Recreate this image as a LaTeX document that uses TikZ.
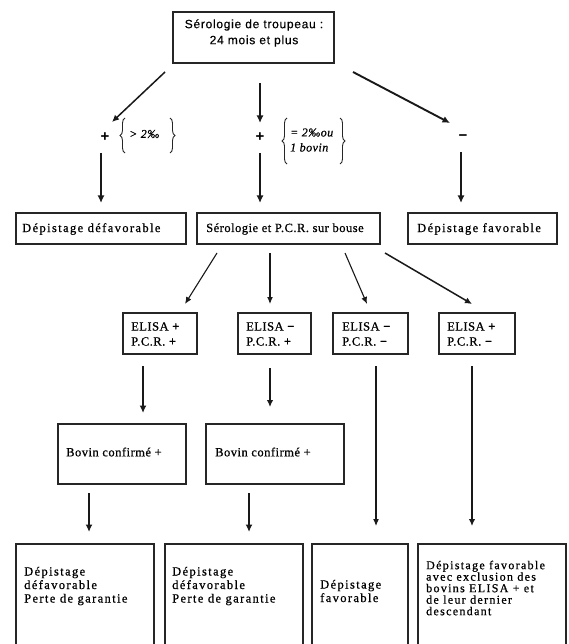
\documentclass[tikz,border=0pt]{standalone}
\usepackage{fontspec}
\setmainfont{Liberation Serif}
\newfontfamily\fa[LetterSpace=11,FakeBold=0.7]{Liberation Serif}
\newfontfamily\fb[LetterSpace=4,FakeBold=0.7]{Liberation Serif}
\newfontfamily\fc[LetterSpace=6,FakeBold=0.4]{Liberation Sans}
\newfontfamily\fs{Liberation Sans}
\usetikzlibrary{arrows.meta,decorations.pathreplacing}
\begin{document}
\begin{tikzpicture}[x=1pt,y=-1pt,
  box/.style={draw=black!85,line width=1.2pt,inner sep=0pt,rectangle},
  ta/.style={inner sep=0pt,anchor=west,align=left,font=\fa\fontsize{12.5}{13.5}\selectfont},
  tg/.style={inner sep=0pt,anchor=west,align=left,font=\fa\fontsize{12}{11.5}\selectfont},
  tb/.style={inner sep=0pt,anchor=west,align=left,font=\fb\fontsize{12.5}{15}\selectfont},
  tc/.style={inner sep=0pt,align=center,font=\fc\fontsize{12}{16}\selectfont},
  sign/.style={inner sep=0pt,font=\fs\bfseries\fontsize{15}{15}\selectfont},
  brc/.style={inner sep=0pt,align=left,font=\fb\itshape\fontsize{12}{15}\selectfont},
  curly/.style={decorate,decoration={brace,amplitude=5pt},line width=0.9pt,black!85},
  arr/.style={-{Latex[length=7.5pt,width=7pt]},line width=1.9pt,black!90},
  arrm/.style={-{Latex[length=7pt,width=6.5pt]},line width=1.5pt,black!90},
  arrt/.style={-{Latex[length=7pt,width=6pt]},line width=1.1pt,black!90},
]
\fill[white] (0,0) rectangle (569,644);
\useasboundingbox (0,0) rectangle (569,644);
\clip (0,0) rectangle (569,644);

% boxes
\node[box,minimum width=161pt,minimum height=51pt] (top) at (253.5,37.5) {};
\node[tc] (toptxt) at (254,33) {Sérologie de troupeau :\\24 mois et plus};

\node[box,minimum width=170pt,minimum height=31pt] (r1) at (101,228.5) {};
\node[box,minimum width=183pt,minimum height=31pt] (r2) at (288.5,228.5) {};
\node[box,minimum width=149pt,minimum height=31pt] (r3) at (482.5,228.5) {};
\node[ta] (r1t) at (22,229) {Dépistage défavorable};
\node[tb] (r2t) at (206,229) {Sérologie et P.C.R. sur bouse};
\node[ta] (r3t) at (417,229) {Dépistage favorable};

\node[box,minimum width=74pt,minimum height=41pt] (e1) at (160,333.5) {};
\node[box,minimum width=73pt,minimum height=41pt] (e2) at (274.5,333.5) {};
\node[box,minimum width=75pt,minimum height=41pt] (e3) at (370.5,333.5) {};
\node[box,minimum width=76pt,minimum height=41pt] (e4) at (477,333.5) {};
\node[tb] (e1t) at (131,334) {ELISA {\bfseries +}\\P.C.R. {\bfseries +}};
\node[tb] (e2t) at (246,334) {ELISA {\bfseries −}\\P.C.R. {\bfseries +}};
\node[tb] (e3t) at (342,334) {ELISA {\bfseries −}\\P.C.R. {\bfseries −}};
\node[tb] (e4t) at (447,334) {ELISA {\bfseries +}\\P.C.R. {\bfseries −}};

\node[box,minimum width=128pt,minimum height=60pt] (b1) at (122,454) {};
\node[box,minimum width=138pt,minimum height=60pt] (b2) at (275,454) {};
\node[tb] (b1t) at (66,452) {Bovin confirmé +};
\node[tb] (b2t) at (215,452) {Bovin confirmé +};

\node[box,minimum width=138pt,minimum height=120pt] (g1) at (85,604) {};
\node[box,minimum width=138pt,minimum height=120pt] (g2) at (234,604) {};
\node[box,minimum width=96pt,minimum height=120pt] (g3) at (360,604) {};
\node[box,minimum width=148pt,minimum height=120pt] (g4) at (492,604) {};
\node[ta] (g1t) at (24,586) {Dépistage\\défavorable\\Perte de garantie};
\node[ta] (g2t) at (172,586) {Dépistage\\défavorable\\Perte de garantie};
\node[ta] (g3t) at (320,591) {Dépistage\\favorable};
\node[tg] (g4t) at (426,588) {Dépistage favorable\\avec exclusion des\\bovins ELISA + et\\de leur dernier\\descendant};

% signs and conditions
\node[sign] (p1) at (105,137) {+};
\node[sign] (p2) at (260,137) {+};
\node[sign] (m3) at (463,138) {−};
\node[brc,anchor=west] (c1) at (129,134) {> 2‰};
\node[brc,anchor=west] (c2) at (290,140) {= 2‰ou\\1 bovin};
\draw[curly] (125,153) -- (125,118);
\draw[curly] (170,118) -- (170,153);
\draw[curly] (287,164) -- (287,118);
\draw[curly] (340,118) -- (340,164);

% coordinates
\coordinate (a1s) at (165,72);  \coordinate (a1e) at (112,122);
\coordinate (a2s) at (260,83);  \coordinate (a2e) at (260,123);
\coordinate (a3s) at (353,72);  \coordinate (a3e) at (450,123);
\coordinate (b1s) at (101,153); \coordinate (b1e) at (101,203);
\coordinate (b2s) at (260,153); \coordinate (b2e) at (260,203);
\coordinate (b3s) at (461,152); \coordinate (b3e) at (461,203);
\coordinate (c1s) at (217,253); \coordinate (c1e) at (185,304);
\coordinate (c2s) at (270,253); \coordinate (c2e) at (270,304);
\coordinate (c3s) at (345,253); \coordinate (c3e) at (367,304);
\coordinate (c4s) at (385,253); \coordinate (c4e) at (472,304);
\coordinate (d1s) at (143,366); \coordinate (d1e) at (143,413);
\coordinate (d2s) at (270,368); \coordinate (d2e) at (270,407);
\coordinate (d3s) at (376,366); \coordinate (d3e) at (376,526);
\coordinate (d4s) at (472,366); \coordinate (d4e) at (472,526);
\coordinate (f1s) at (89,493);  \coordinate (f1e) at (89,532);
\coordinate (f2s) at (249,493); \coordinate (f2e) at (249,532);

% arrows
\draw[arrm] (a1s) -- (a1e);
\draw[arr] (a2s) -- (a2e);
\draw[arr] (a3s) -- (a3e);
\draw[arr] (b1s) -- (b1e);
\draw[arr] (b2s) -- (b2e);
\draw[arr] (b3s) -- (b3e);
\draw[arrt] (c1s) -- (c1e);
\draw[arrt] (c2s) -- (c2e);
\draw[arrt] (c3s) -- (c3e);
\draw[arrm] (c4s) -- (c4e);
\draw[arr] (d1s) -- (d1e);
\draw[arrm] (d2s) -- (d2e);
\draw[arrt] (d3s) -- (d3e);
\draw[arrm] (d4s) -- (d4e);
\draw[arr] (f1s) -- (f1e);
\draw[arr] (f2s) -- (f2e);
\end{tikzpicture}
\end{document}
